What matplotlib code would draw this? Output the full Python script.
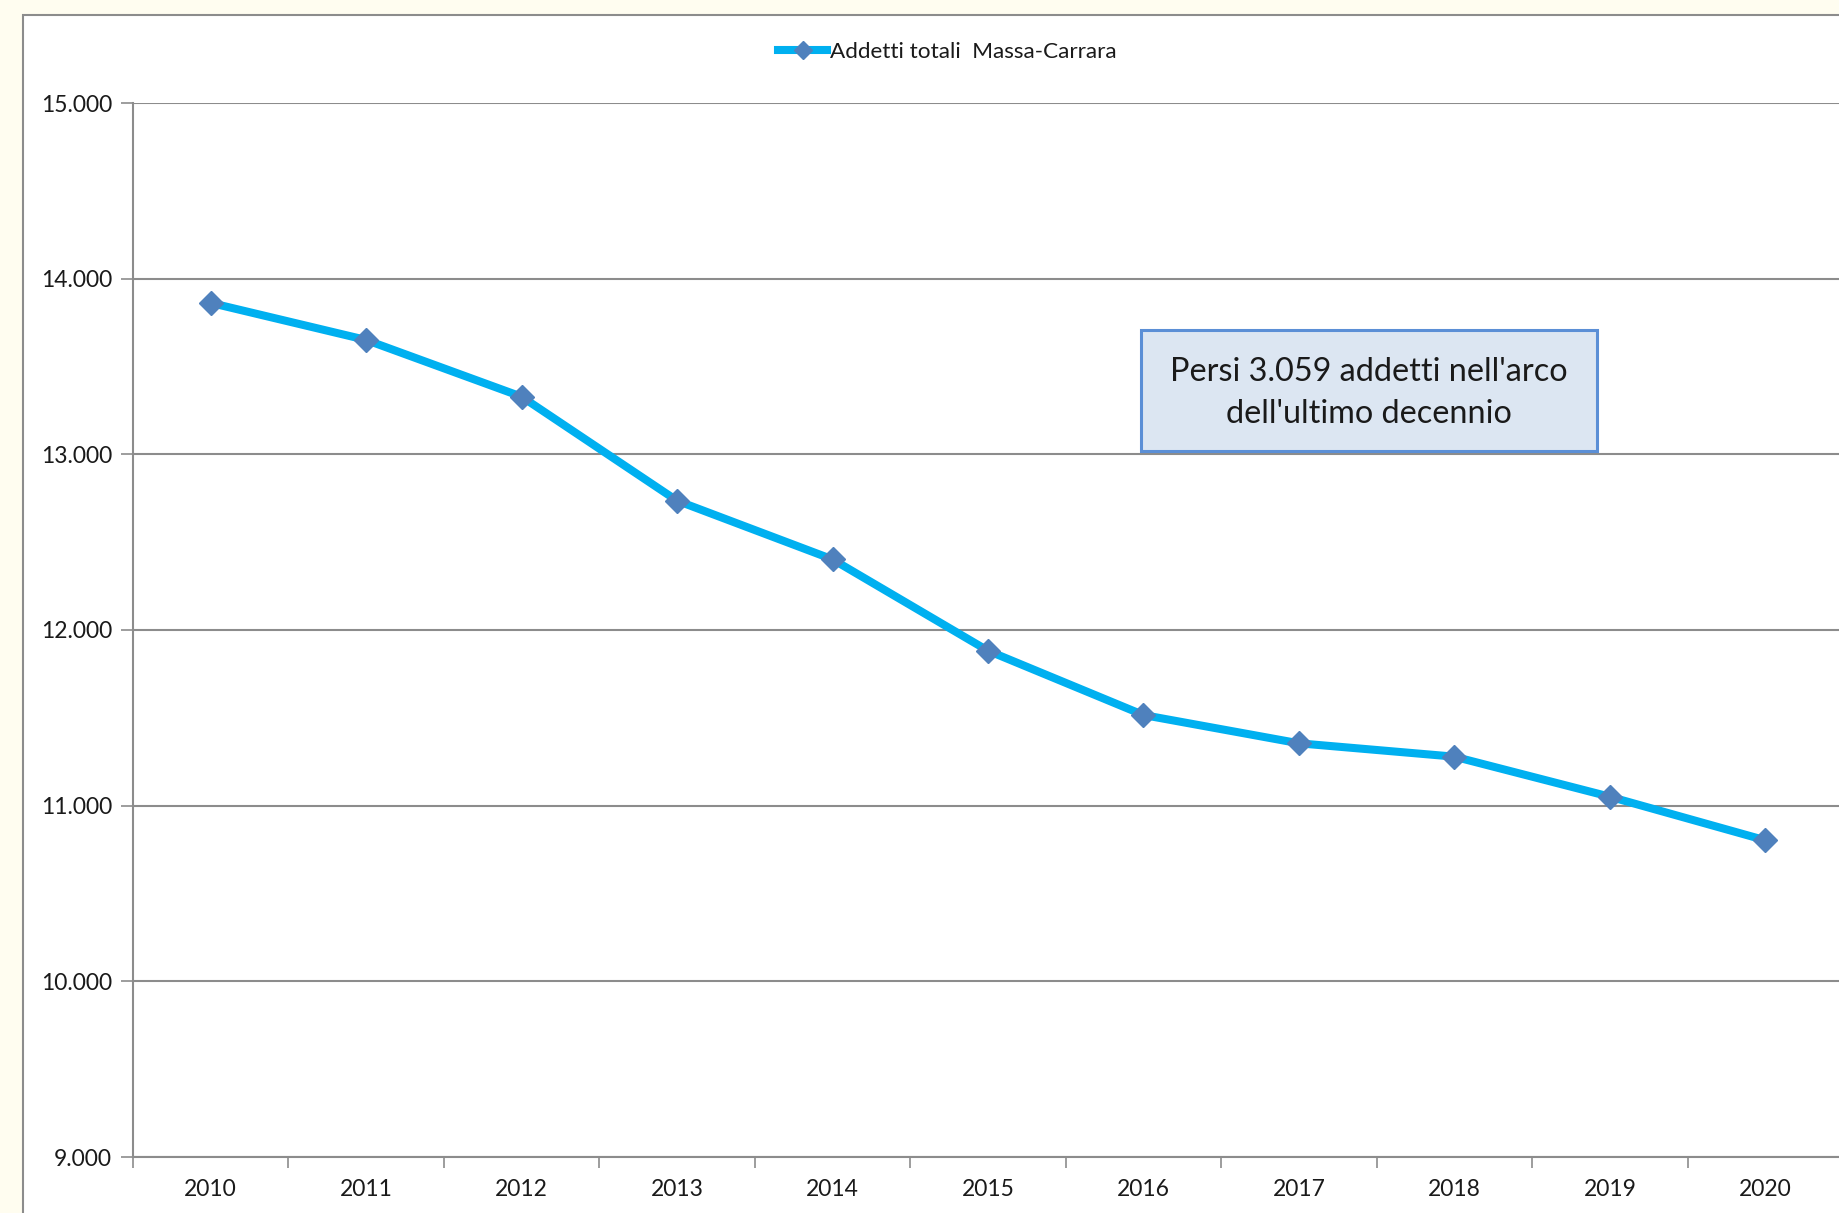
import matplotlib.pyplot as plt
import matplotlib.ticker as mticker
from matplotlib.patches import Rectangle

# Addetti totali, provincia di Massa-Carrara
anni = ["2010", "2011", "2012", "2013", "2014", "2015",
        "2016", "2017", "2018", "2019", "2020"]
addetti = [13862, 13651, 13328, 12736, 12402, 11882,
           11516, 11355, 11279, 11051, 10803]

serie_label = "Addetti totali  Massa-Carrara"
nota = "Persi 3.059 addetti nell'arco\ndell'ultimo decennio"

plt.rcParams["font.family"] = ["Lato", "DejaVu Sans"]

W, H = 1840, 1213
fig = plt.figure(figsize=(W / 100, H / 100), dpi=100)
fig.patch.set_facecolor("#FFFDF0")

# chart area (white, grey border), runs off the right/bottom edge
fig.patches.append(Rectangle((23 / W, -0.01), 1.1, 1 - 15 / H + 0.01,
                             transform=fig.transFigure, facecolor="white",
                             edgecolor="#8C8C8C", linewidth=1.5, zorder=-5))

ax = fig.add_axes([133 / W, 1 - 1157 / H, (1843 - 133) / W, (1157 - 103) / H])
ax.set_facecolor("white")

x = list(range(len(anni)))
ax.plot(x, addetti, color="#00B0F0", linewidth=5.8, marker="D",
        markersize=12.5, markerfacecolor="#4F81BD", markeredgecolor="#4F81BD",
        label=serie_label, zorder=3, clip_on=False)

ax.set_xlim(-0.5, len(anni) - 0.5)
ax.set_ylim(9000, 15000)

# y axis: gridlines every 1000, dotted thousands separator
ax.yaxis.set_major_locator(mticker.MultipleLocator(1000))
ax.yaxis.set_major_formatter(
    mticker.FuncFormatter(lambda v, _: f"{int(v):,}".replace(",", ".")))
ax.grid(axis="y", color="#8C8C8C", linewidth=1.5, zorder=1)
ax.set_axisbelow(True)
ax.tick_params(axis="y", length=9, width=1.2, color="#8C8C8C", pad=6,
               labelsize=16.5, labelcolor="#1A1A1A")

# x axis: ticks between categories, labels centred on them
ax.set_xticks([i - 0.5 for i in range(len(anni) + 1)])
ax.set_xticklabels([])
ax.set_xticks(x, minor=True)
ax.set_xticklabels(anni, minor=True)
ax.tick_params(axis="x", which="major", length=8, width=1.2, color="#8C8C8C")
ax.tick_params(axis="x", which="minor", length=0, pad=16,
               labelsize=16.5, labelcolor="#1A1A1A")

for side in ("top", "right"):
    ax.spines[side].set_visible(False)
for side in ("left", "bottom"):
    ax.spines[side].set_color("#8C8C8C")
    ax.spines[side].set_linewidth(1.5)

ax.legend(loc="center", bbox_to_anchor=(947 / W, 1 - 52 / H),
          bbox_transform=fig.transFigure, frameon=False, fontsize=16.2,
          handlelength=2.2, handletextpad=0.1, numpoints=1, markerscale=0.7,
          labelcolor="#1A1A1A")

# callout box
bx0, by0, bx1, by1 = 1141, 330, 1597, 451
fig.patches.append(Rectangle((bx0 / W, 1 - by1 / H), (bx1 - bx0) / W,
                             (by1 - by0) / H, transform=fig.transFigure,
                             facecolor="#DCE6F2", edgecolor="#5B8FD6",
                             linewidth=2.2, zorder=5))
fig.text((bx0 + bx1) / 2 / W, 1 - (by0 + by1 + 5) / 2 / H, nota, ha="center",
         va="center", fontsize=23.3, color="#1A1A1A", linespacing=1.5,
         zorder=6)

fig.savefig("out.png", dpi=100, facecolor=fig.get_facecolor())
